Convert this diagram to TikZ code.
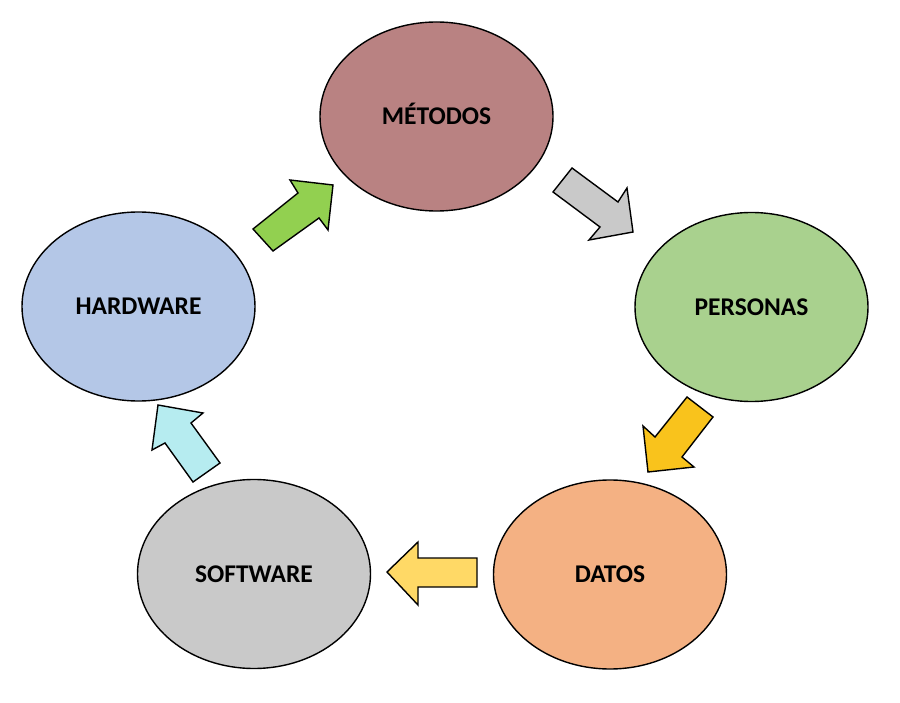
\documentclass[tikz,border=0pt]{standalone}
\usepackage{fontspec}
\setmainfont{Carlito}
\usetikzlibrary{shapes.geometric}
\definecolor{cMet}{HTML}{B98282}
\definecolor{cPer}{HTML}{A9D18E}
\definecolor{cDat}{HTML}{F4B183}
\definecolor{cSof}{HTML}{C9C9C9}
\definecolor{cHar}{HTML}{B4C7E7}
\definecolor{aGreen}{HTML}{92D050}
\definecolor{aGray}{HTML}{C9C9C9}
\definecolor{aOrange}{HTML}{F9C31C}
\definecolor{aYellow}{HTML}{FFD966}
\definecolor{aCyan}{HTML}{B6ECF0}
\tikzset{
  ell/.style={ellipse, draw=black, line width=1.4pt, minimum width=233pt, minimum height=189pt, inner sep=0pt, text height=16.5pt, text depth=0pt, font=\fontsize{25.5}{28}\selectfont\bfseries},
  blockarrow/.style={draw=black, line width=1.4pt, line join=miter}
}
\begin{document}
\begin{tikzpicture}[x=1pt,y=-1pt]
\useasboundingbox (0,0) rectangle (900,703);
\node[ell, fill=cMet] (met) at (436.5,116.5) {MÉTODOS};
\node[ell, fill=cPer] (per) at (751.5,307) {PERSONAS};
\node[ell, fill=cDat] (dat) at (610,574.5) {DATOS};
\node[ell, fill=cSof] (sof) at (254,574) {SOFTWARE};
\node[ell, fill=cHar] (har) at (138.5,306.5) {HARDWARE};
% green arrow HARDWARE -> METODOS
\filldraw[blockarrow, fill=aGreen] (253,229) -- (298,193) -- (290,180) -- (333,185) -- (328,230) -- (319,218) -- (273,251) -- cycle;
% gray arrow METODOS -> PERSONAS
\filldraw[blockarrow, fill=aGray] (572,168) -- (618,202) -- (627,188) -- (633,232) -- (589,240) -- (600,227) -- (553,192) -- cycle;
% orange arrow PERSONAS -> DATOS
\filldraw[blockarrow, fill=aOrange] (713,417) -- (682,457) -- (694,467) -- (648,472) -- (643,426) -- (655,437) -- (687,397) -- cycle;
% yellow arrow DATOS -> SOFTWARE
\filldraw[blockarrow, fill=aYellow] (477,587) -- (418,587) -- (418,605) -- (387,572) -- (418,542) -- (418,558) -- (477,558) -- cycle;
% cyan arrow SOFTWARE -> HARDWARE
\filldraw[blockarrow, fill=aCyan] (193,482) -- (165,443) -- (152,450) -- (158,405) -- (203,413) -- (191,423) -- (220,463) -- cycle;
\end{tikzpicture}
\end{document}
